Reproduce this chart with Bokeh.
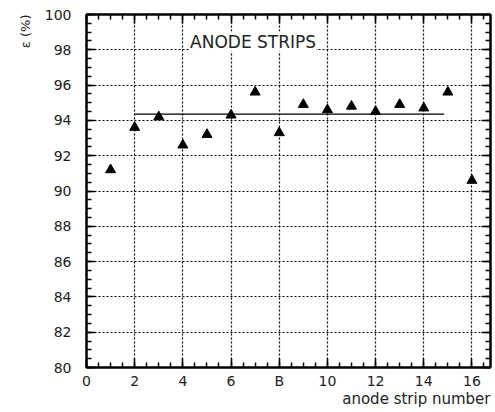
from bokeh.plotting import figure
from bokeh.models import (LinearAxis, FixedTicker, Range1d, Label, Title)
from bokeh.embed import file_html
from bokeh.resources import INLINE

strip = [1, 2, 3, 4, 5, 6, 7, 8, 9, 10, 11, 12, 13, 14, 15, 16]
eff = [91.2, 93.6, 94.2, 92.6, 93.2, 94.3, 95.6, 93.3, 94.9, 94.6, 94.8, 94.5, 94.9, 94.7, 95.6, 90.6]
fit_x = [2, 14.85]
fit_level = 94.35
x_ticks = [0, 2, 4, 6, 8, 10, 12, 14, 16]
x_tick_labels = ["0", "2", "4", "6", "B", "10", "12", "14", "16"]
y_ticks = [80, 82, 84, 86, 88, 90, 92, 94, 96, 98, 100]

FONT = "DejaVu Sans"

p = figure(width=495, height=412, output_backend="svg", toolbar_location=None,
           x_range=Range1d(0, 16.77), y_range=Range1d(80, 100),
           min_border_left=86, min_border_right=5, min_border_top=14, min_border_bottom=45,
           x_axis_location=None, y_axis_location=None)
p.background_fill_color = "white"
p.border_fill_color = "white"
p.outline_line_color = "black"
p.outline_line_width = 2

minor_x = [v / 2 for v in range(0, 34)]
minor_y = [80 + v / 2 for v in range(0, 41)]

def make_axis(ticks, minor, labels):
    ax = LinearAxis(ticker=FixedTicker(ticks=ticks, minor_ticks=minor))
    ax.axis_line_color = "black"
    ax.axis_line_width = 2
    ax.major_tick_in = 9
    ax.major_tick_out = 0
    ax.minor_tick_in = 5
    ax.minor_tick_out = 0
    ax.major_tick_line_width = 1.5
    ax.minor_tick_line_width = 1.5
    ax.major_tick_line_color = "black"
    ax.minor_tick_line_color = "black"
    ax.major_label_text_font = FONT
    ax.major_label_text_font_size = "14px"
    ax.major_label_text_color = "#222222"
    ax.major_label_overrides = labels
    return ax

xb = make_axis(x_ticks, minor_x, {t: l for t, l in zip(x_ticks, x_tick_labels)})
xb.major_label_standoff = 5
p.add_layout(xb, "below")
yl = make_axis(y_ticks, minor_y, {t: str(t) for t in y_ticks})
yl.major_label_standoff = 15
p.add_layout(yl, "left")
xt = make_axis(x_ticks, minor_x, {t: "" for t in x_ticks})
xt.major_label_standoff = 0
p.add_layout(xt, "above")
yr = make_axis(y_ticks, minor_y, {t: "" for t in y_ticks})
yr.major_label_standoff = 0
p.add_layout(yr, "right")

p.xgrid.ticker = FixedTicker(ticks=x_ticks)
p.ygrid.ticker = FixedTicker(ticks=y_ticks)
for g in (p.xgrid, p.ygrid):
    g.grid_line_color = "black"
    g.grid_line_dash = "2 2"
    g.grid_line_width = 1.2

p.line(fit_x, [fit_level, fit_level], line_color="black", line_width=1.3)
p.scatter(strip, eff, marker="triangle", size=10, fill_color="black", line_color="black")

p.add_layout(Label(x=4.3, y=98.47, text="ANODE STRIPS", text_font=FONT,
                   text_font_size="17px", text_baseline="middle", text_align="left",
                   text_color="#222222", background_fill_color="white"))

p.add_layout(Title(text="anode strip number", align="right", text_font=FONT,
                   text_font_size="15px", text_font_style="normal",
                   text_color="#222222", standoff=-7), "below")
p.add_layout(Title(text="ε (%)", align="right", text_font=FONT,
                   text_font_size="13px", text_font_style="normal",
                   text_color="#222222", standoff=18), "left")

open("out.html", "w").write(file_html(p, INLINE))
